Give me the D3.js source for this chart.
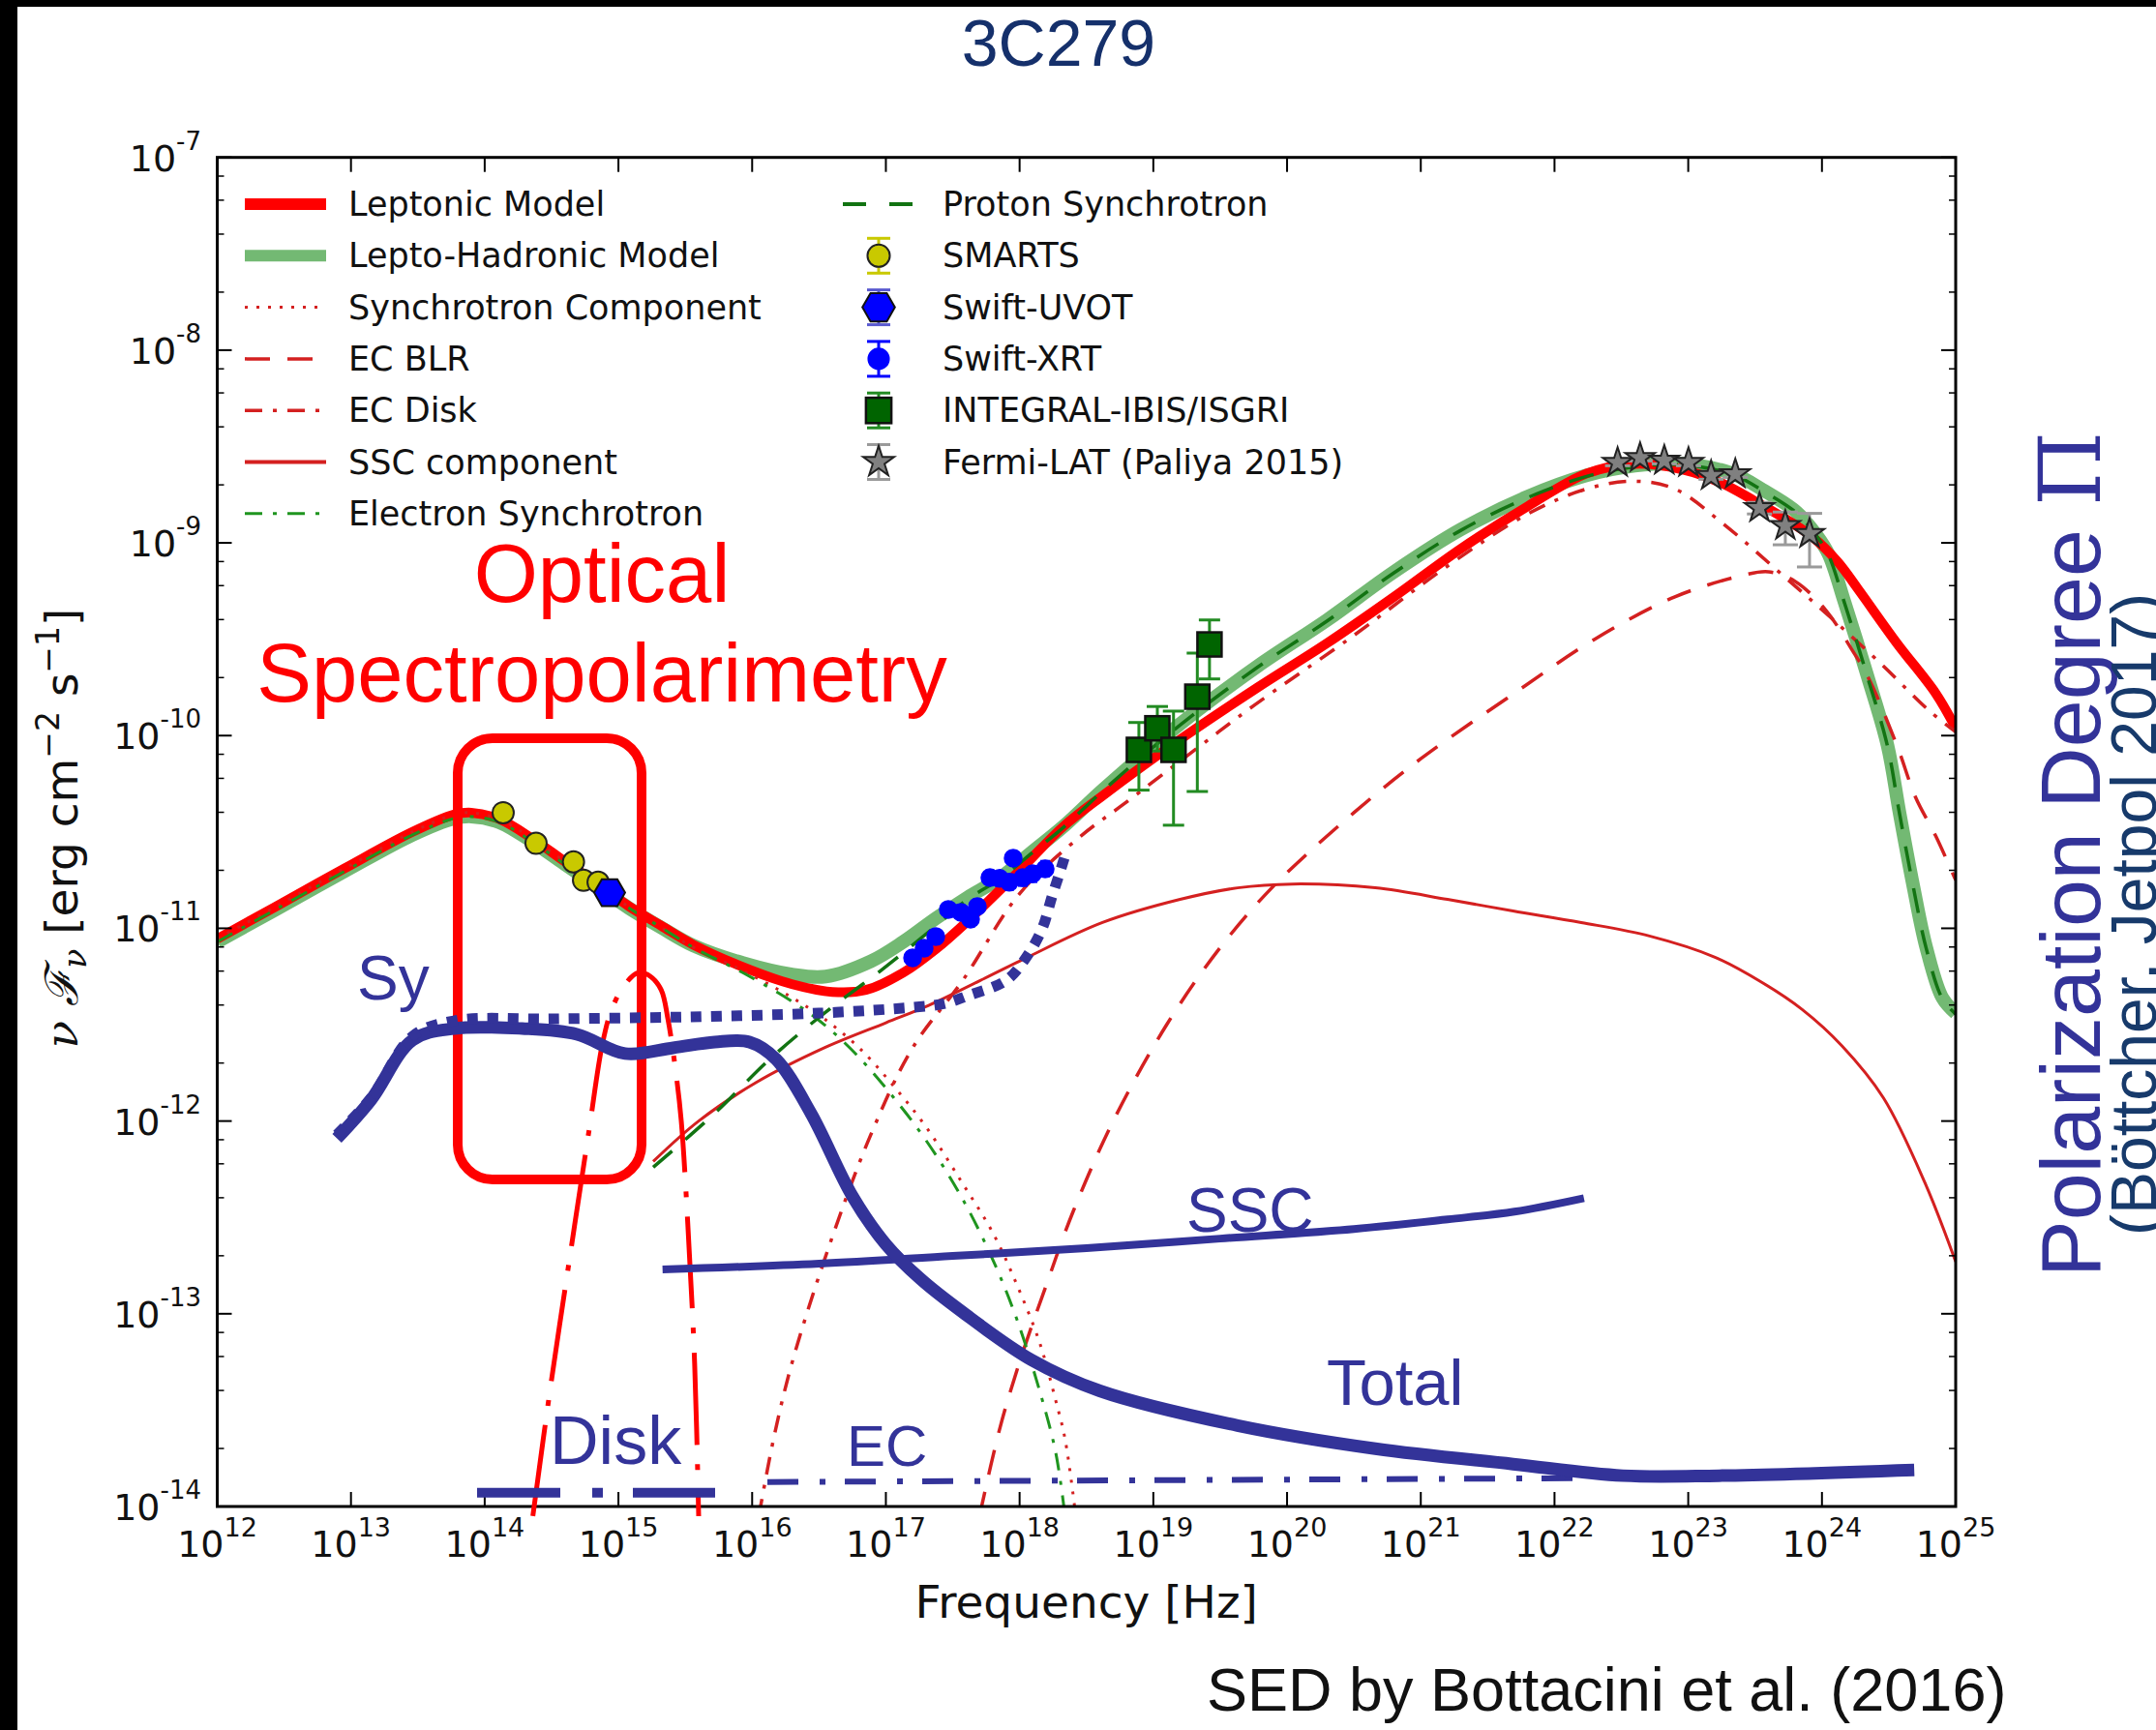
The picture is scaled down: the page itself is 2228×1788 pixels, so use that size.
<!DOCTYPE html>
<html>
<head>
<meta charset="utf-8">
<script src="https://cdn.jsdelivr.net/npm/d3@7"></script>
<style>
html, body { margin: 0; padding: 0; background: #fff; }
svg { display: block; }
</style>
</head>
<body>
<svg id="chart" width="2228" height="1788"></svg>
<script>
// ---------- text ----------
const chartTitle = "3C279";
const creditText = "SED by Bottacini et al. (2016)";
const xAxisTitle = "Frequency [Hz]";
const polTitle = "Polarization Degree ";
const polSymbol = "\u03A0";
const polSubtitle = "(B\u00F6ttcher, Jetpol 2017)";
const opticalLines = ["Optical", "Spectropolarimetry"];

// ---------- tick exponents ----------
const xTickExponents = [12, 13, 14, 15, 16, 17, 18, 19, 20, 21, 22, 23, 24, 25];
const yTickExponents = [-14, -13, -12, -11, -10, -9, -8, -7];
const yMinorMultipliers = [2, 4, 6, 8];

// ---------- model curves: [log10 nu (Hz), log10 nuFnu (erg cm^-2 s^-1)] ----------
const leptonicModel = [
  [12.00,-11.055],[12.43,-10.89],[12.95,-10.69],[13.46,-10.50],[13.77,-10.41],[13.90,-10.40],
  [14.11,-10.434],[14.355,-10.534],[14.594,-10.651],[14.838,-10.767],[15.079,-10.886],
  [15.318,-10.986],[15.562,-11.086],[15.93,-11.20],[16.30,-11.29],[16.60,-11.33],[16.85,-11.32],
  [17.13,-11.23],[17.37,-11.11],[17.60,-10.97],[18.00,-10.70],[18.33,-10.47],[18.625,-10.31],
  [19.20,-10.02],[19.78,-9.75],[20.30,-9.52],[20.80,-9.28],[21.30,-9.03],[21.80,-8.81],
  [22.24,-8.64],[22.60,-8.59],[22.96,-8.62],[23.25,-8.69],[23.49,-8.78],[23.69,-8.86],
  [23.93,-8.97],[24.12,-9.10],[24.27,-9.24],[24.56,-9.52],[24.85,-9.78],[25.00,-9.96]
];
const leptoHadronicModel = [
  [12.00,-11.07],[12.43,-10.905],[12.95,-10.705],[13.46,-10.515],[13.77,-10.43],[13.90,-10.42],
  [14.11,-10.45],[14.355,-10.55],[14.594,-10.665],[14.838,-10.78],[15.079,-10.895],
  [15.318,-10.995],[15.562,-11.09],[15.93,-11.18],[16.30,-11.24],[16.55,-11.25],[16.89,-11.17],
  [17.13,-11.07],[17.37,-10.95],[17.61,-10.84],[17.85,-10.74],[18.10,-10.60],[18.33,-10.47],
  [18.625,-10.28],[19.20,-9.94],[19.78,-9.64],[20.30,-9.40],[20.80,-9.15],[21.30,-8.93],
  [21.80,-8.76],[22.24,-8.65],[22.60,-8.60],[22.96,-8.59],[23.33,-8.64],[23.57,-8.73],
  [23.81,-8.84],[23.96,-8.96],[24.05,-9.06],[24.17,-9.31],[24.34,-9.69],[24.49,-10.05],
  [24.58,-10.40],[24.68,-10.77],[24.78,-11.10],[24.90,-11.36],[25.00,-11.44]
];
const synchrotronComponent = [
  [12.00,-11.055],[12.43,-10.89],[12.95,-10.69],[13.46,-10.50],[13.77,-10.41],[13.90,-10.40],
  [14.11,-10.434],[14.355,-10.534],[14.594,-10.651],[14.838,-10.767],[15.079,-10.89],
  [15.318,-10.995],[15.562,-11.10],[15.93,-11.22],[16.30,-11.36],[16.54,-11.47],[16.80,-11.62],
  [17.06,-11.82],[17.30,-12.03],[17.57,-12.32],[17.80,-12.58],[17.98,-12.85],[18.15,-13.15],
  [18.27,-13.45],[18.34,-13.65],[18.42,-14.05]
];
const ecBLR = [
  [17.70,-14.05],[17.85,-13.60],[18.00,-13.25],[18.20,-12.85],[18.40,-12.47],[18.70,-12.00],
  [19.10,-11.50],[19.50,-11.10],[19.90,-10.78],[20.50,-10.40],[21.00,-10.12],[21.70,-9.78],
  [22.30,-9.50],[22.90,-9.28],[23.40,-9.17],[23.60,-9.15],[23.80,-9.20],[24.03,-9.35],
  [24.22,-9.55],[24.34,-9.69],[24.56,-10.05],[24.70,-10.32],[24.85,-10.52],[25.00,-10.75]
];
const ecDisk = [
  [16.05,-14.05],[16.16,-13.65],[16.30,-13.25],[16.60,-12.60],[16.90,-12.05],[17.20,-11.62],
  [17.575,-11.27],[18.00,-10.82],[18.46,-10.52],[18.77,-10.36],[19.30,-10.08],[19.76,-9.84],
  [20.50,-9.48],[21.20,-9.12],[21.80,-8.85],[22.24,-8.72],[22.60,-8.68],[22.90,-8.72],
  [23.26,-8.90],[23.71,-9.17],[24.07,-9.39],[24.46,-9.64],[24.80,-9.87],[25.00,-9.98]
];
const sscComponent = [
  [15.26,-12.21],[15.60,-12.00],[16.03,-11.80],[16.54,-11.62],[17.00,-11.49],[17.32,-11.40],
  [18.00,-11.17],[18.62,-10.97],[19.20,-10.85],[19.63,-10.79],[20.04,-10.77],[20.66,-10.79],
  [21.20,-10.85],[21.69,-10.91],[22.20,-10.97],[22.71,-11.04],[23.20,-11.15],[23.55,-11.28],
  [23.85,-11.42],[24.15,-11.61],[24.46,-11.88],[24.77,-12.32],[25.00,-12.73]
];
const electronSynchrotron = [
  [12.00,-11.07],[12.43,-10.905],[12.95,-10.705],[13.46,-10.515],[13.77,-10.43],[13.90,-10.42],
  [14.11,-10.45],[14.355,-10.55],[14.594,-10.665],[14.838,-10.78],[15.079,-10.895],
  [15.318,-10.995],[15.562,-11.10],[15.93,-11.23],[16.30,-11.38],[16.54,-11.50],[16.80,-11.67],
  [17.06,-11.88],[17.30,-12.10],[17.57,-12.40],[17.80,-12.72],[17.98,-13.03],[18.15,-13.40],
  [18.27,-13.72],[18.34,-14.05]
];
const protonSynchrotron = [
  [15.26,-12.24],[15.72,-11.96],[16.13,-11.68],[16.54,-11.44],[16.96,-11.22],[17.37,-10.99],
  [17.61,-10.85],[17.85,-10.745],[18.10,-10.605],[18.33,-10.475],[18.625,-10.285],
  [19.20,-9.945],[19.78,-9.645],[20.30,-9.405],[20.80,-9.155],[21.30,-8.935],[21.80,-8.765],
  [22.24,-8.655],[22.60,-8.605],[22.96,-8.595],[23.33,-8.645],[23.57,-8.735],[23.81,-8.845],
  [23.96,-8.965],[24.05,-9.065],[24.17,-9.315],[24.34,-9.695],[24.49,-10.055],[24.58,-10.405],
  [24.68,-10.775],[24.78,-11.105],[24.90,-11.365],[25.00,-11.445]
];

// ---------- observations: [log10 nu, log10 nuFnu, log10 low, log10 high] ----------
const smartsPoints = [
  [14.138,-10.400,-10.415,-10.385],[14.384,-10.559,-10.574,-10.544],[14.664,-10.655,-10.670,-10.640],
  [14.739,-10.751,-10.766,-10.736],[14.848,-10.761,-10.776,-10.746]
];
const swiftUvotPoints = [
  [14.934,-10.815,-10.835,-10.795]
];
const swiftXrtPoints = [
  [17.200,-11.153,-11.19,-11.12],[17.286,-11.103,-11.14,-11.07],[17.373,-11.043,-11.08,-11.01],
  [17.467,-10.902,-10.94,-10.87],[17.561,-10.917,-10.95,-10.88],[17.633,-10.952,-10.99,-10.92],
  [17.684,-10.887,-10.92,-10.85],[17.778,-10.737,-10.77,-10.70],[17.851,-10.741,-10.78,-10.71],
  [17.923,-10.761,-10.80,-10.72],[17.952,-10.636,-10.67,-10.60],[18.024,-10.737,-10.78,-10.70],
  [18.097,-10.717,-10.76,-10.68],[18.191,-10.692,-10.73,-10.65]
];
const integralPoints = [
  [18.892,-10.074,-10.283,-9.932],[19.030,-9.962,-10.080,-9.849],[19.151,-10.074,-10.465,-9.873],
  [19.329,-9.798,-10.290,-9.572],[19.420,-9.527,-9.706,-9.400]
];
const fermiPoints = [
  [22.472,-8.584,-8.60,-8.57],[22.640,-8.559,-8.575,-8.545],[22.821,-8.573,-8.59,-8.56],
  [23.002,-8.584,-8.60,-8.57],[23.171,-8.652,-8.67,-8.635],[23.352,-8.643,-8.66,-8.625],
  [23.533,-8.819,-8.85,-8.79],[23.726,-8.911,-9.01,-8.84],[23.907,-8.953,-9.125,-8.847]
];

// ---------- polarization sketch curves ----------
const polSy = [
  [12.895,-12.07],[13.15,-11.88],[13.46,-11.56],[13.77,-11.48],[14.50,-11.47],[15.50,-11.46],
  [16.50,-11.44],[17.20,-11.41],[17.44,-11.39],[17.61,-11.35],[17.90,-11.27],[18.05,-11.15],
  [18.17,-11.00],[18.24,-10.84],[18.31,-10.69],[18.35,-10.60]
];
const polTotal = [
  [12.895,-12.09],[13.15,-11.89],[13.46,-11.58],[13.77,-11.52],[14.28,-11.52],[14.69,-11.55],
  [15.05,-11.65],[15.41,-11.62],[15.72,-11.59],[15.98,-11.59],[16.18,-11.68],[16.44,-11.96],
  [16.75,-12.39],[17.00,-12.64],[17.26,-12.82],[17.57,-12.99],[18.09,-13.24],[18.60,-13.40],
  [19.63,-13.58],[20.66,-13.70],[21.69,-13.78],[22.51,-13.84],[23.23,-13.84],[24.69,-13.81]
];
const polSSC = [
  [15.33,-12.77],[16.50,-12.74],[17.50,-12.70],[18.50,-12.66],[19.50,-12.61],[20.50,-12.56],
  [21.20,-12.51],[21.70,-12.47],[22.22,-12.40]
];
const polDisk = [[13.943,-13.929],[15.723,-13.929]];
const polEC = [[16.114,-13.873],[22.29,-13.853]];
const diskSpectrum = [
  [14.36,-14.05],[14.49,-13.39],[14.64,-12.69],[14.78,-12.05],[14.88,-11.60],[14.95,-11.42],
  [15.05,-11.29],[15.15,-11.23],[15.24,-11.25],[15.32,-11.32],[15.37,-11.47],[15.43,-11.75],
  [15.47,-12.00],[15.52,-12.55],[15.57,-13.26],[15.60,-14.05]
];

// ---------- legend labels ----------
const legendLeftLabels = ["Leptonic Model", "Lepto-Hadronic Model", "Synchrotron Component",
  "EC BLR", "EC Disk", "SSC component", "Electron Synchrotron"];
const legendRightLabels = ["Proton Synchrotron", "SMARTS", "Swift-UVOT", "Swift-XRT",
  "INTEGRAL-IBIS/ISGRI", "Fermi-LAT (Paliya 2015)"];
const polLabels = [
  { text: "Sy", nu: 13.046, f: -11.37, size: 64 },
  { text: "Disk", nu: 14.486, f: -13.779, size: 70 },
  { text: "EC", nu: 16.707, f: -13.789, size: 60 },
  { text: "SSC", nu: 19.247, f: -12.574, size: 64 },
  { text: "Total", nu: 20.296, f: -13.472, size: 67 }
];

// ================= drawing =================
const W = 2228, H = 1788;
const M = { left: 224.5, right: 2021, top: 162.7, bottom: 1557 };
const RED = "#ff0000", COMP_RED = "#d42020", NAVY = "#333399";
const GREEN = "#008000", EGREEN = "#1f951f", PGREEN = "#127312";
const SANS = "'DejaVu Sans', sans-serif";
const ARIAL = "'Liberation Sans', Arial, sans-serif";

const svg = d3.select("#chart");
svg.append("rect").attr("width", W).attr("height", H).attr("fill", "#fff");
svg.append("rect").attr("x", 0).attr("y", 0).attr("width", 18).attr("height", H).attr("fill", "#000");
svg.append("rect").attr("x", 0).attr("y", 0).attr("width", W).attr("height", 7).attr("fill", "#000");

const x = d3.scaleLog().domain([1e12, 1e25]).range([M.left, M.right]);
const y = d3.scaleLog().domain([1e-14, 1e-7]).range([M.bottom, M.top]);
const px = d => x(Math.pow(10, d[0]));
const py = d => y(Math.pow(10, d[1]));
const smooth = d3.line().x(px).y(py).curve(d3.curveCatmullRom.alpha(0.5));
const straight = d3.line().x(px).y(py);

svg.append("defs").append("clipPath").attr("id", "plotClip")
  .append("rect").attr("x", M.left).attr("y", M.top)
  .attr("width", M.right - M.left).attr("height", M.bottom - M.top);

const plot = svg.append("g").attr("clip-path", "url(#plotClip)");

function drawCurve(g, data, style, gen) {
  const p = g.append("path").datum(data).attr("d", gen || smooth)
    .attr("fill", "none").attr("stroke", style.color)
    .attr("stroke-width", style.width)
    .attr("stroke-linejoin", "round")
    .attr("stroke-linecap", style.cap || "butt");
  if (style.dash) p.attr("stroke-dasharray", style.dash);
  if (style.opacity != null) p.attr("stroke-opacity", style.opacity);
  return p;
}

const styles = {
  lepto: { color: RED, width: 10 },
  hadro: { color: GREEN, width: 14, opacity: 0.55 },
  synch: { color: COMP_RED, width: 3, dash: "3,9" },
  blr: { color: COMP_RED, width: 3.5, dash: "26,18" },
  disk: { color: COMP_RED, width: 3.5, dash: "18,11,4,11" },
  ssc: { color: COMP_RED, width: 3 },
  esyn: { color: EGREEN, width: 3, dash: "18,11,4,11" },
  psyn: { color: PGREEN, width: 3.5, dash: "26,18" }
};

drawCurve(plot, leptoHadronicModel, styles.hadro);
drawCurve(plot, leptonicModel, styles.lepto);
drawCurve(plot, sscComponent, styles.ssc);
drawCurve(plot, synchrotronComponent, styles.synch);
drawCurve(plot, ecBLR, styles.blr);
drawCurve(plot, ecDisk, styles.disk);
drawCurve(plot, electronSynchrotron, styles.esyn);
drawCurve(plot, protonSynchrotron, styles.psyn);

// ---------- markers ----------
function hexPath(r) {
  const pts = d3.range(6).map(i => [r * Math.cos(i * Math.PI / 3), r * Math.sin(i * Math.PI / 3)]);
  return "M" + pts.map(p => p.join(",")).join("L") + "Z";
}
const starSym = r => d3.symbol().type(d3.symbolStar).size(r * r / 0.8908130915292852)();

function errorBars(g, data, color, capW, width) {
  data.forEach(d => {
    const cx = px(d), y1 = y(Math.pow(10, d[2])), y2 = y(Math.pow(10, d[3]));
    g.append("line").attr("x1", cx).attr("x2", cx).attr("y1", y1).attr("y2", y2)
      .attr("stroke", color).attr("stroke-width", width);
    [y1, y2].forEach(yy => g.append("line").attr("x1", cx - capW / 2).attr("x2", cx + capW / 2)
      .attr("y1", yy).attr("y2", yy).attr("stroke", color).attr("stroke-width", width));
  });
}

const markerStyles = {
  smarts: { fill: "#c9c900", stroke: "#222", err: "#c9c900" },
  uvot: { fill: "#0000ff", stroke: "#111", err: "#5a5ad0" },
  xrt: { fill: "#0000ff", stroke: "#0000ff", err: "#0000ff" },
  integral: { fill: "#006400", stroke: "#111", err: "#228b22" },
  fermi: { fill: "#808080", stroke: "#222", err: "#9a9a9a" }
};

function drawMarker(g, type, cx, cy, scale) {
  const s = scale || 1;
  const st = markerStyles[type];
  if (type === "smarts") {
    g.append("circle").attr("cx", cx).attr("cy", cy).attr("r", 11 * s)
      .attr("fill", st.fill).attr("stroke", st.stroke).attr("stroke-width", 2);
  } else if (type === "uvot") {
    g.append("path").attr("d", hexPath(16 * s)).attr("transform", `translate(${cx},${cy})`)
      .attr("fill", st.fill).attr("stroke", st.stroke).attr("stroke-width", 2);
  } else if (type === "xrt") {
    g.append("circle").attr("cx", cx).attr("cy", cy).attr("r", 9 * s)
      .attr("fill", st.fill).attr("stroke", st.stroke).attr("stroke-width", 1.5);
  } else if (type === "integral") {
    const a = 25 * s;
    g.append("rect").attr("x", cx - a / 2).attr("y", cy - a / 2).attr("width", a).attr("height", a)
      .attr("fill", st.fill).attr("stroke", st.stroke).attr("stroke-width", 2.5);
  } else if (type === "fermi") {
    g.append("path").attr("d", starSym(16 * s)).attr("transform", `translate(${cx},${cy})`)
      .attr("fill", st.fill).attr("stroke", st.stroke).attr("stroke-width", 2);
  }
}

const obs = svg.append("g").attr("clip-path", "url(#plotClip)");
errorBars(obs, integralPoints, markerStyles.integral.err, 22, 3);
errorBars(obs, fermiPoints, markerStyles.fermi.err, 26, 3);
errorBars(obs, swiftXrtPoints, markerStyles.xrt.err, 10, 2);
errorBars(obs, smartsPoints, markerStyles.smarts.err, 10, 2);
smartsPoints.forEach(d => drawMarker(obs, "smarts", px(d), py(d)));
swiftUvotPoints.forEach(d => drawMarker(obs, "uvot", px(d), py(d)));
swiftXrtPoints.forEach(d => drawMarker(obs, "xrt", px(d), py(d)));
integralPoints.forEach(d => drawMarker(obs, "integral", px(d), py(d)));
fermiPoints.forEach(d => drawMarker(obs, "fermi", px(d), py(d)));

// ---------- axes frame and ticks ----------
const axes = svg.append("g");
axes.append("rect").attr("x", M.left).attr("y", M.top)
  .attr("width", M.right - M.left).attr("height", M.bottom - M.top)
  .attr("fill", "none").attr("stroke", "#000").attr("stroke-width", 3);

const tickColor = "#000";
xTickExponents.forEach(k => {
  const xx = x(Math.pow(10, k));
  axes.append("line").attr("x1", xx).attr("x2", xx).attr("y1", M.bottom).attr("y2", M.bottom - 15)
    .attr("stroke", tickColor).attr("stroke-width", 2);
  axes.append("line").attr("x1", xx).attr("x2", xx).attr("y1", M.top).attr("y2", M.top + 15)
    .attr("stroke", tickColor).attr("stroke-width", 2);
  const t = axes.append("text").attr("x", xx).attr("y", 1609).attr("text-anchor", "middle")
    .attr("font-family", SANS).attr("font-size", 38).attr("fill", "#111");
  t.append("tspan").text("10");
  t.append("tspan").attr("font-size", 27).attr("dy", -21).text(String(k));
});
yTickExponents.forEach(k => {
  const yy = y(Math.pow(10, k));
  [[M.left, 1], [M.right, -1]].forEach(([x0, dir]) => {
    axes.append("line").attr("x1", x0).attr("x2", x0 + dir * 15).attr("y1", yy).attr("y2", yy)
      .attr("stroke", tickColor).attr("stroke-width", 2);
    if (k < -7) {
      yMinorMultipliers.forEach(mul => {
        const ym = y(mul * Math.pow(10, k));
        axes.append("line").attr("x1", x0).attr("x2", x0 + dir * 7).attr("y1", ym).attr("y2", ym)
          .attr("stroke", tickColor).attr("stroke-width", 1.5);
      });
    }
  });
  const t = axes.append("text").attr("x", 208).attr("y", yy + 14).attr("text-anchor", "end")
    .attr("font-family", SANS).attr("font-size", 38).attr("fill", "#111");
  t.append("tspan").text("10");
  t.append("tspan").attr("font-size", 26).attr("dy", -22).text(String(k));
});

// axis titles
svg.append("text").attr("x", (M.left + M.right) / 2).attr("y", 1672).attr("text-anchor", "middle")
  .attr("font-family", SANS).attr("font-size", 47).attr("fill", "#111").text(xAxisTitle);

const yl = svg.append("text").attr("transform", "translate(80,856) rotate(-90)")
  .attr("text-anchor", "middle").attr("font-family", SANS).attr("font-size", 47).attr("fill", "#111");
yl.append("tspan").attr("font-family", "'DejaVu Serif', serif").attr("font-style", "italic").text("\u03BD ");
yl.append("tspan").attr("font-family", "'DejaVu Serif', serif").attr("font-style", "italic").text("\u2131");
yl.append("tspan").attr("font-family", "'DejaVu Serif', serif").attr("font-style", "italic")
  .attr("font-size", 33).attr("dy", 9).text("\u03BD");
yl.append("tspan").attr("dy", -9).text(" [erg cm");
yl.append("tspan").attr("font-size", 33).attr("dy", -19).text("\u22122");
yl.append("tspan").attr("dy", 19).text(" s");
yl.append("tspan").attr("font-size", 33).attr("dy", -19).text("\u22121");
yl.append("tspan").attr("dy", 19).text("]");

// ---------- legend ----------
const legend = svg.append("g");
const rowY = i => 211 + i * 53.3;
const leftStyles = [styles.lepto, styles.hadro, styles.synch, styles.blr, styles.disk,
  { color: COMP_RED, width: 4 }, styles.esyn];
legendLeftLabels.forEach((lab, i) => {
  const st = leftStyles[i];
  const ln = legend.append("line").attr("x1", 253).attr("x2", 337).attr("y1", rowY(i)).attr("y2", rowY(i))
    .attr("stroke", st.color).attr("stroke-width", i < 2 ? 12 : st.width);
  if (st.dash) ln.attr("stroke-dasharray", st.dash);
  if (st.opacity != null) ln.attr("stroke-opacity", st.opacity);
  legend.append("text").attr("x", 360).attr("y", rowY(i) + 12).attr("font-family", SANS)
    .attr("font-size", 35).attr("fill", "#111").text(lab);
});
const rightTypes = ["line", "smarts", "uvot", "xrt", "integral", "fermi"];
legendRightLabels.forEach((lab, i) => {
  const yy = rowY(i), cx = 908;
  const type = rightTypes[i];
  if (type === "line") {
    legend.append("line").attr("x1", 871).attr("x2", 944).attr("y1", yy).attr("y2", yy)
      .attr("stroke", PGREEN).attr("stroke-width", 4).attr("stroke-dasharray", "24,24");
  } else {
    const st = markerStyles[type];
    const half = 18;
    legend.append("line").attr("x1", cx).attr("x2", cx).attr("y1", yy - half).attr("y2", yy + half)
      .attr("stroke", st.err).attr("stroke-width", 3);
    [yy - half, yy + half].forEach(v => legend.append("line").attr("x1", cx - 12).attr("x2", cx + 12)
      .attr("y1", v).attr("y2", v).attr("stroke", st.err).attr("stroke-width", 3));
    drawMarker(legend, type, cx, yy, type === "xrt" ? 1.2 : 1.05);
  }
  legend.append("text").attr("x", 974).attr("y", yy + 12).attr("font-family", SANS)
    .attr("font-size", 35).attr("fill", "#111").text(lab);
});

// ---------- annotations ----------
const notes = svg.append("g");
notes.append("rect").attr("x", 473).attr("y", 763).attr("width", 190).attr("height", 456)
  .attr("rx", 36).attr("ry", 36).attr("fill", "none").attr("stroke", RED).attr("stroke-width", 10);
opticalLines.forEach((t, i) => {
  notes.append("text").attr("x", 622).attr("y", i === 0 ? 622 : 725).attr("text-anchor", "middle")
    .attr("font-family", ARIAL).attr("font-size", 85).attr("fill", RED).text(t);
});

drawCurve(notes, diskSpectrum, { color: RED, width: 5, dash: "95,20,6,20" });
drawCurve(notes, polEC, { color: NAVY, width: 6, dash: "32,22,6,20" }, straight);
drawCurve(notes, polDisk, { color: NAVY, width: 10, dash: "86,33,11,31" }, straight);
drawCurve(notes, polSSC, { color: NAVY, width: 8 });
drawCurve(notes, polTotal, { color: NAVY, width: 13 });
drawCurve(notes, polSy, { color: NAVY, width: 11, dash: "11,10" });

polLabels.forEach(l => {
  notes.append("text").attr("x", px([l.nu, l.f])).attr("y", py([l.nu, l.f]))
    .attr("font-family", ARIAL).attr("font-size", l.size).attr("fill", NAVY).text(l.text);
});

// ---------- titles ----------
svg.append("text").attr("x", 1094).attr("y", 68).attr("text-anchor", "middle")
  .attr("font-family", ARIAL).attr("font-size", 68).attr("fill", "#15306b").text(chartTitle);
svg.append("text").attr("x", 1247).attr("y", 1768)
  .attr("font-family", ARIAL).attr("font-size", 63).attr("fill", "#111").text(creditText);
const pt = svg.append("text").attr("transform", "translate(2170,883) rotate(-90)").attr("text-anchor", "middle")
  .attr("font-family", ARIAL).attr("font-size", 88).attr("fill", NAVY);
pt.append("tspan").text(polTitle);
pt.append("tspan").attr("font-family", "'DejaVu Serif', serif").text(polSymbol);
svg.append("text").attr("transform", "translate(2228,945) rotate(-90)").attr("text-anchor", "middle")
  .attr("font-family", ARIAL).attr("font-size", 66).attr("fill", "#173a6b").text(polSubtitle);
</script>
</body>
</html>
